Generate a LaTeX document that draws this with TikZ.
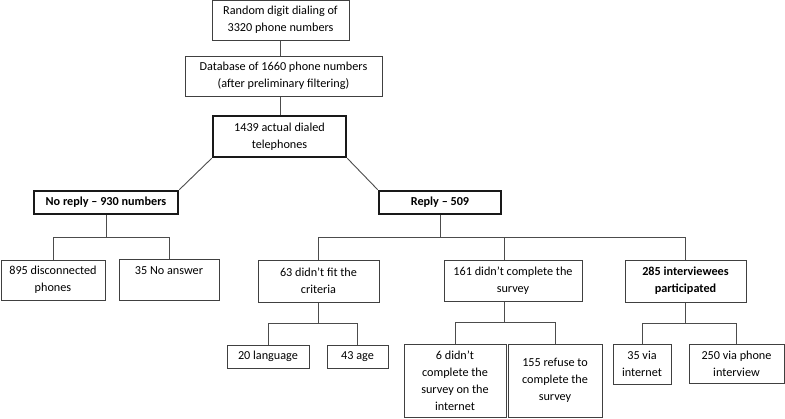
\documentclass[tikz,border=0pt]{standalone}
\usepackage{fontspec}
\setmainfont{Carlito}
\usetikzlibrary{calc}

\begin{document}
\begin{tikzpicture}[
    x=1pt, y=-1pt,
    box/.style={
        rectangle,
        draw=black!75,
        line width=1pt,
        fill=white,
        inner sep=1pt,
        font=\fontsize{12.2}{17}\selectfont,
        align=center
    },
    keybox/.style={
        box,
        draw=black!90,
        line width=2.6pt
    },
    link/.style={
        draw=black!70,
        line width=0.9pt
    }
]
\useasboundingbox (0,0) rectangle (785,418);

% Top of the flow
\node[box, minimum width=137pt, minimum height=40pt] (dialing) at (280.5,20) {Random digit dialing of\\3320 phone numbers};
\node[box, minimum width=197pt, minimum height=40pt] (database) at (283.5,76) {Database of 1660 phone numbers\\(after preliminary filtering)};
\node[keybox, minimum width=133pt, minimum height=41pt] (dialed) at (279.5,136.5) {1439 actual dialed\\telephones};

% Reply split
\node[keybox, minimum width=144pt, minimum height=23pt, font=\fontsize{12.2}{17}\selectfont\bfseries] (noreply) at (106,202.5) {No reply -- 930 numbers};
\node[keybox, minimum width=122pt, minimum height=23pt, font=\fontsize{12.2}{17}\selectfont\bfseries] (reply) at (440,202.5) {Reply -- 509};

% Children of no reply
\node[box, minimum width=104pt, minimum height=40pt] (disconnected) at (53,280) {895 disconnected\\phones};
\node[box, minimum width=100pt, minimum height=41pt] (noanswer) at (169,279.5) {35 No answer\\\mbox{}};

% Children of reply
\node[box, minimum width=121pt, minimum height=42pt] (criteria) at (318.5,281) {63 didn’t fit the\\criteria};
\node[box, minimum width=138pt, minimum height=41pt] (incomplete) at (513,280.5) {161 didn’t complete the\\survey};
\node[box, minimum width=121pt, minimum height=42pt, font=\fontsize{12.2}{17}\selectfont\bfseries] (participated) at (685.5,281) {285 interviewees\\participated};

% Third level
\node[box, minimum width=82pt, minimum height=23pt] (language) at (268,356.5) {20 language};
\node[box, minimum width=61pt, minimum height=23pt] (age) at (357.5,356.5) {43 age};
\node[box, minimum width=102pt, minimum height=73pt] (online) at (455,380.5) {6 didn’t\\complete the\\survey on the\\internet};
\node[box, minimum width=94pt, minimum height=73pt] (refuse) at (555,380.5) {155 refuse to\\complete the\\survey};
\node[box, minimum width=58pt, minimum height=40pt] (viainternet) at (642,364) {35 via\\internet};
\node[box, minimum width=95pt, minimum height=39pt] (viaphone) at (736.5,363.5) {250 via phone\\interview};

% Connectors
\draw[link] (dialing.south) -- (dialing.south |- database.north);
\draw[link] (dialing.south |- database.south) -- (dialing.south |- dialed.north);
\draw[link] (dialed.south west) -- (noreply.north east);
\draw[link] (dialed.south east) -- (reply.north west);

\draw[link] (noreply.south) -- ++(0,22) coordinate (noreplybar) -| (disconnected.north);
\draw[link] (noreplybar) -| (noanswer.north);

\draw[link] (reply.south) -- ++(0,22) coordinate (replybar) -| (criteria.north);
\draw[link] (replybar) -| ($(incomplete.north)+(-9,0)$);
\draw[link] (replybar) -| (participated.north);

\draw[link] (criteria.south) -- ++(0,21) coordinate (criteriabar) -| (language.north);
\draw[link] (criteriabar) -| (age.north);

\draw[link] ($(incomplete.south)+(-9,0)$) -- ++(0,21) coordinate (incompletebar) -| (online.north);
\draw[link] (incompletebar) -| (refuse.north);

\draw[link] (participated.south) -- ++(0,21) coordinate (participatedbar) -| (viainternet.north);
\draw[link] (participatedbar) -| (viaphone.north);

\end{tikzpicture}
\end{document}
